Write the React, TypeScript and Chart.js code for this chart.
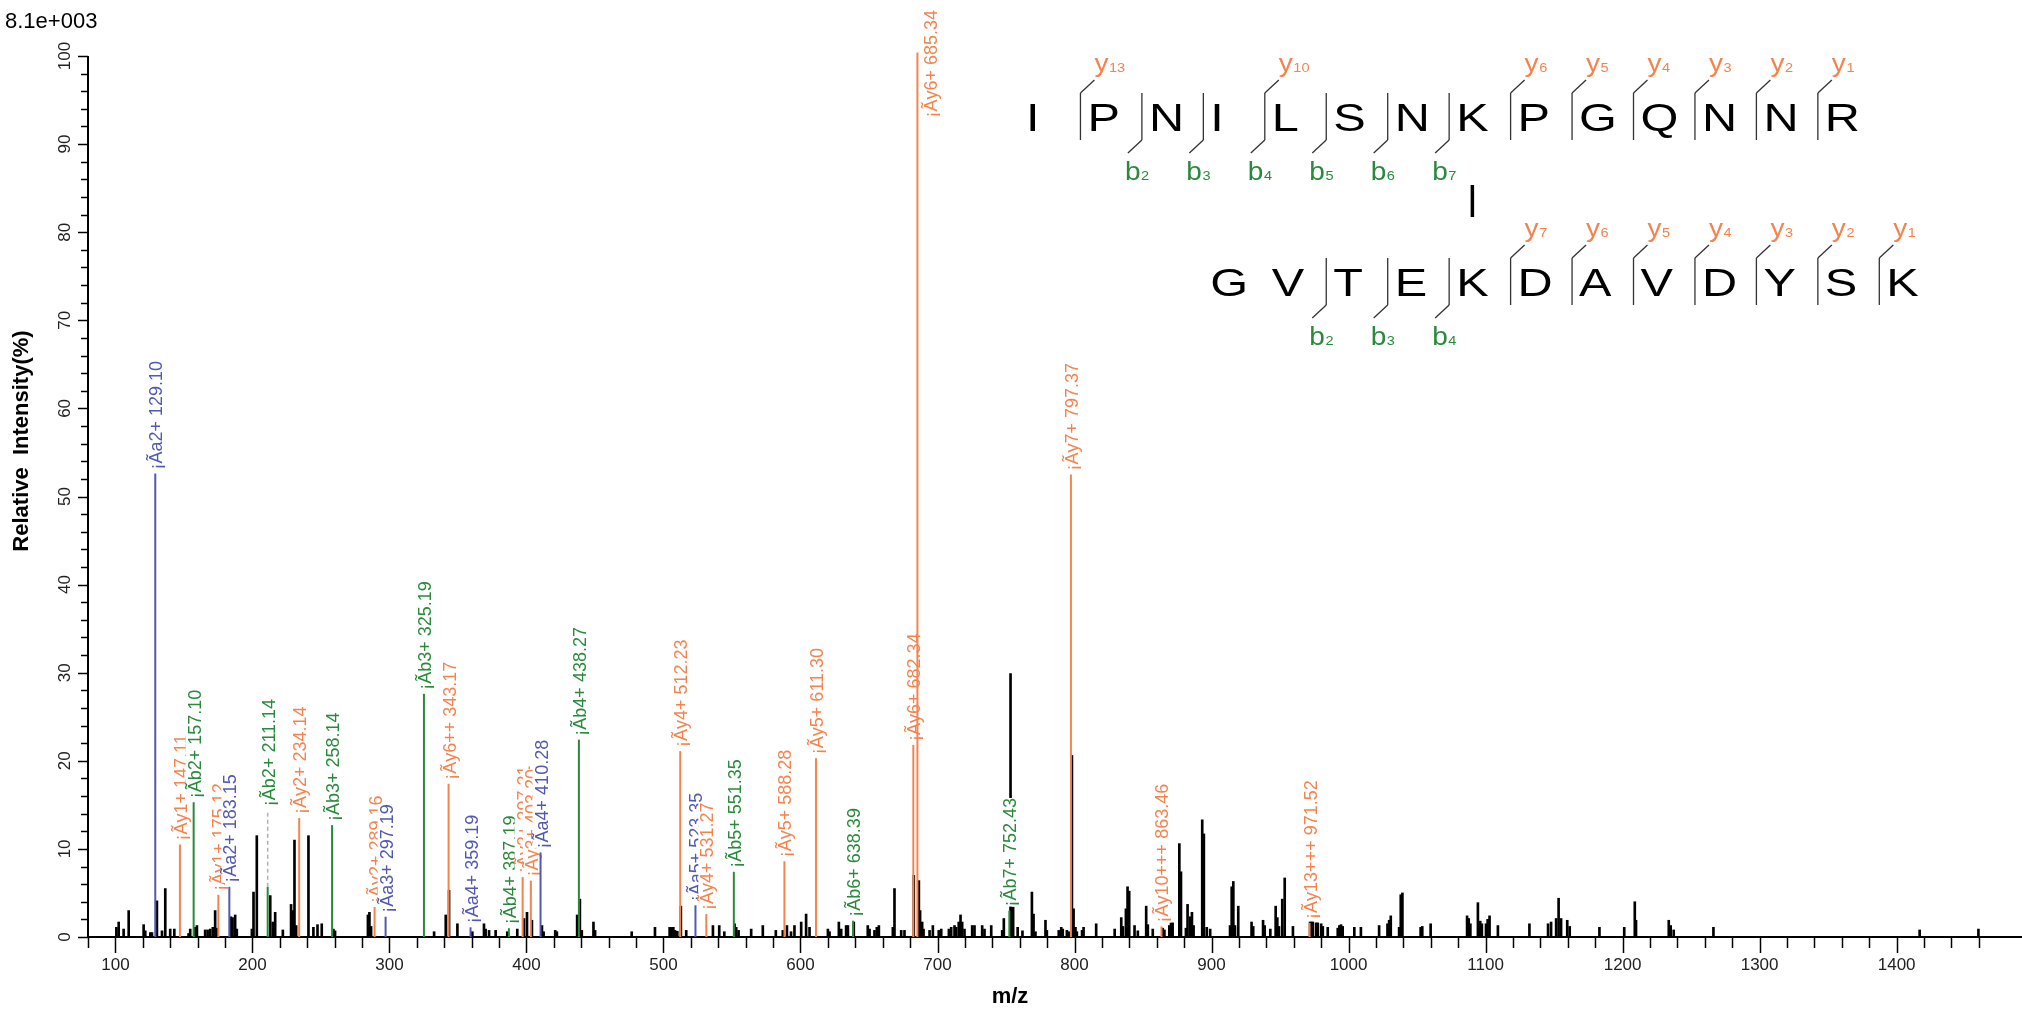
import React, { useEffect, useRef } from "react";
import { Chart, registerables } from "chart.js";

Chart.register(...registerables);

// ---------- data ----------
const blackMz = [
  100.7, 102.4, 106.0, 109.7, 120.6, 121.8, 125.5, 126.7, 130.3, 134.0, 136.4, 140.0, 143.0,
  153.4, 154.6, 158.3, 159.5, 165.5, 167.3, 169.2, 171.1, 172.8, 174.0, 184.3, 185.5, 187.4,
  188.6, 199.6, 200.8, 203.2, 213.0, 214.9, 216.6, 222.2, 228.2, 229.5, 230.7, 231.9, 240.9,
  244.5, 247.5, 250.6, 259.1, 260.3, 284.3, 285.4, 286.6, 332.6, 341.1, 343.5, 349.6, 360.5,
  369.0, 370.2, 372.7, 377.5, 386.0, 393.3, 398.2, 400.4, 404.0, 411.3, 412.5, 421.0, 422.2,
  437.0, 439.0, 440.4, 448.9, 450.1, 476.8, 493.8, 504.5, 506.0, 507.2, 508.4, 510.1, 512.7,
  516.6, 536.1, 540.7, 544.4, 551.9, 553.1, 554.8, 564.0, 572.5, 582.0, 587.1, 590.1, 593.1,
  595.6, 600.5, 604.1, 606.6, 620.0, 621.2, 628.0, 629.7, 633.3, 634.6, 638.9, 649.1, 650.4,
  654.0, 655.7, 657.2, 667.4, 668.6, 673.5, 675.9, 682.7, 686.4, 687.3, 688.8, 689.8, 694.2,
  696.6, 700.9, 702.7, 708.3, 710.0, 712.4, 713.6, 715.5, 716.8, 718.0, 719.7, 725.3, 727.0,
  732.6, 734.3, 739.2, 747.2, 748.4, 753.3, 754.5, 755.2, 758.5, 762.0, 768.9, 770.1, 771.5,
  778.8, 779.8, 788.5, 790.3, 791.4, 794.4, 795.8, 798.1, 799.3, 800.7, 801.7, 805.5, 806.6,
  815.8, 829.3, 834.1, 835.3, 837.5, 838.7, 839.9, 843.8, 846.2, 852.3, 853.5, 857.1, 864.4,
  865.6, 869.2, 870.4, 871.6, 876.5, 877.7, 881.3, 882.5, 884.5, 885.7, 886.9, 893.2, 894.4,
  896.5, 899.0, 913.5, 914.7, 915.9, 917.1, 919.5, 929.2, 930.4, 937.6, 938.8, 942.9, 946.8,
  948.0, 949.2, 951.6, 953.4, 959.4, 971.9, 972.9, 973.9, 976.3, 977.5, 980.0, 981.2, 984.8,
  992.1, 993.3, 994.5, 995.7, 1004.2, 1009.0, 1022.3, 1028.4, 1029.6, 1030.8, 1036.9, 1038.1,
  1039.3, 1052.6, 1053.8, 1059.9, 1086.5, 1087.7, 1088.9, 1094.4, 1096.1, 1097.3, 1100.3,
  1101.5, 1102.9, 1109.0, 1132.0, 1145.6, 1147.8, 1151.5, 1153.3, 1155.1, 1159.6, 1161.4,
  1183.1, 1201.2, 1208.9, 1209.8, 1233.7, 1235.1, 1237.3, 1266.3, 1416.8, 1459.7,
];
const blackInt = [
  1.1, 1.7, 0.9, 3.0, 1.4, 0.7, 0.5, 0.5, 4.1, 0.7, 5.5, 0.9, 0.9,
  0.4, 0.9, 1.1, 1.3, 0.8, 0.8, 0.9, 1.1, 3.0, 1.0, 2.3, 2.2, 2.5,
  0.9, 0.9, 5.1, 11.5, 4.7, 1.7, 2.8, 0.8, 3.7, 3.0, 11.0, 1.3, 11.5,
  1.1, 1.4, 1.5, 0.9, 0.7, 2.5, 2.8, 1.2, 0.6, 2.5, 5.3, 1.5, 0.6,
  1.5, 0.9, 0.75, 0.75, 0.6, 0.9, 2.1, 2.8, 1.9, 1.3, 0.6, 0.75, 0.6,
  2.5, 4.3, 0.75, 1.7, 0.75, 0.6, 1.1, 1.1, 1.1, 1.1, 0.75, 0.65, 3.5,
  0.75, 1.3, 1.3, 0.6, 1.5, 1.1, 0.75, 0.9, 1.3, 0.75, 0.75, 1.3, 0.6,
  1.3, 1.7, 2.6, 1.1, 0.9, 0.6, 1.7, 0.9, 1.3, 1.3, 1.7, 1.3, 0.9,
  0.75, 1.1, 1.3, 1.1, 5.5, 0.75, 0.75, 7.0, 6.4, 3.0, 1.7, 0.9, 0.75,
  1.3, 0.75, 0.9, 0.9, 1.1, 1.3, 1.1, 1.7, 2.5, 1.7, 0.9, 1.3, 1.3,
  1.3, 0.9, 1.3, 0.75, 2.1, 29.9, 3.3, 3.4, 1.1, 0.7, 5.1, 2.6, 0.6,
  1.9, 0.75, 0.75, 1.1, 0.9, 0.75, 0.6, 20.6, 3.2, 1.1, 0.6, 0.75, 1.1,
  1.5, 0.9, 2.2, 1.2, 3.2, 5.7, 5.2, 1.3, 0.7, 3.5, 1.4, 0.9, 1.0,
  0.8, 1.3, 1.6, 1.6, 10.6, 7.4, 1.0, 3.7, 2.3, 2.8, 1.3, 13.3, 11.7,
  1.1, 0.9, 1.3, 5.7, 6.3, 1.3, 3.5, 1.7, 1.2, 1.9, 1.3, 0.9, 3.5,
  2.2, 1.2, 4.3, 6.7, 1.2, 1.7, 1.7, 1.7, 1.6, 1.6, 1.5, 1.2, 1.1,
  1.0, 1.3, 1.4, 1.2, 1.1, 1.1, 1.3, 1.5, 1.9, 2.4, 1.1, 4.8,
  5.0, 1.1, 1.2, 1.5, 2.4, 2.1, 1.5, 3.9, 1.8, 1.5, 1.5,
  2.0, 2.4, 1.3, 1.5, 1.5, 1.7, 2.1, 4.4, 2.1, 1.9, 1.2,
  1.1, 1.1, 4.0, 1.9, 1.9, 1.3, 0.8, 1.1, 0.8, 0.9,
];

const aIonMz = [129.1, 183.15, 297.19, 359.19, 410.28, 523.35];
const aIonInt = [52.6, 5.7, 2.3, 1.1, 9.6, 3.6];
const aIonLabel = ["¡Ãa2+ 129.10", "¡Ãa2+ 183.15", "¡Ãa3+ 297.19", "¡Ãa4+ 359.19", "¡Ãa4+ 410.28", "¡Ãa5+ 523.35"];

const bIonMz = [157.1, 211.14, 258.14, 325.19, 387.19, 438.27, 551.35, 638.39, 752.43];
const bIonInt = [15.3, 5.7, 12.7, 27.6, 1.0, 22.4, 7.4, 1.85, 3.0];
const bIonLabel = [
  "¡Ãb2+ 157.10", "¡Ãb2+ 211.14", "¡Ãb3+ 258.14", "¡Ãb3+ 325.19", "¡Ãb4+ 387.19",
  "¡Ãb4+ 438.27", "¡Ãb5+ 551.35", "¡Ãb6+ 638.39", "¡Ãb7+ 752.43",
];

const yIonMz = [147.11, 175.12, 234.14, 289.16, 343.17, 397.21, 403.2, 512.23, 531.27, 588.28, 611.3, 682.34, 685.34, 797.37, 863.46, 971.52];
const yIonInt = [10.5, 4.8, 13.5, 3.4, 17.4, 6.8, 6.4, 21.1, 2.6, 8.6, 20.3, 21.8, 100.4, 52.5, 1.2, 1.6];
const yIonLabel = [
  "¡Ãy1+ 147.11", "¡Ãy1+ 175.12", "¡Ãy2+ 234.14", "¡Ãy2+ 289.16", "¡Ãy6++ 343.17",
  "¡Ãy3+ 397.21", "¡Ãy3+ 403.20", "¡Ãy4+ 512.23", "¡Ãy4+ 531.27", "¡Ãy5+ 588.28",
  "¡Ãy5+ 611.30", "¡Ãy6+ 682.34", "¡Ãy6+ 685.34", "¡Ãy7+ 797.37", "¡Ãy10+++ 863.46",
  "¡Ãy13+++ 971.52",
];

// label raised above its peak, in intensity units (joined by a dashed leader)
const labelLift: Record<string, number> = { "¡Ãb2+ 211.14": 14.4 };

const xTickLabels = ["100", "200", "300", "400", "500", "600", "700", "800", "900", "1000", "1100", "1200", "1300", "1400"];
const yTickLabels = ["0", "10", "20", "30", "40", "50", "60", "70", "80", "90", "100"];
const intensityScale = "8.1e+003";

const peptide1 = ["I", "P", "N", "I", "L", "S", "N", "K", "P", "G", "Q", "N", "N", "R"];
const peptide2 = ["G", "V", "T", "E", "K", "D", "A", "V", "D", "Y", "S", "K"];
const pep1YIons: [number, string][] = [[1, "13"], [4, "10"], [8, "6"], [9, "5"], [10, "4"], [11, "3"], [12, "2"], [13, "1"]];
const pep1BIons: [number, string][] = [[2, "2"], [3, "3"], [4, "4"], [5, "5"], [6, "6"], [7, "7"]];
const pep2YIons: [number, string][] = [[5, "7"], [6, "6"], [7, "5"], [8, "4"], [9, "3"], [10, "2"], [11, "1"]];
const pep2BIons: [number, string][] = [[2, "2"], [3, "3"], [4, "4"]];
const linkSite1 = 7;

// ---------- styles ----------
const FONT = '"Liberation Sans", Arial, sans-serif';
const COL_A = "#5259b0";
const COL_B = "#2a8a3c";
const COL_Y = "#f4844f";

const spectrumPlugin = {
  id: "spectrum",
  afterDatasetsDraw(chart: any) {
    const { ctx } = chart;
    const xs = chart.scales.x;
    const ys = chart.scales.y;
    const base = ys.getPixelForValue(0);
    const left = chart.chartArea.left;
    const right = chart.chartArea.right;

    ctx.save();
    // ----- axes -----
    ctx.strokeStyle = "#000";
    ctx.lineWidth = 2;
    ctx.beginPath();
    ctx.moveTo(left, ys.getPixelForValue(100));
    ctx.lineTo(left, base);
    ctx.lineTo(right, base);
    ctx.stroke();
    ctx.lineWidth = 1.5;
    for (let v = 0; v <= 100; v += 2) {
      const py = Math.round(ys.getPixelForValue(v)) + 0.5;
      const len = v % 10 === 0 ? 10 : 7;
      ctx.beginPath();
      ctx.moveTo(left - len, py);
      ctx.lineTo(left, py);
      ctx.stroke();
    }
    for (let v = 80; v <= 1460; v += 20) {
      const px = Math.round(xs.getPixelForValue(v)) + 0.5;
      const len = v % 100 === 0 ? 16 : 11;
      ctx.beginPath();
      ctx.moveTo(px, base);
      ctx.lineTo(px, base + len);
      ctx.stroke();
    }
    ctx.fillStyle = "#222";
    ctx.font = `17px ${FONT}`;
    ctx.textAlign = "center";
    ctx.textBaseline = "middle";
    xTickLabels.forEach((t) => {
      ctx.fillText(t, xs.getPixelForValue(Number(t)), base + 28);
    });
    yTickLabels.forEach((t) => {
      ctx.save();
      ctx.translate(left - 23, ys.getPixelForValue(Number(t)));
      ctx.rotate(-Math.PI / 2);
      ctx.fillText(t, 0, 0);
      ctx.restore();
    });
    // titles
    ctx.fillStyle = "#000";
    ctx.font = `bold 22px ${FONT}`;
    ctx.fillText("m/z", 1010, 997);
    ctx.save();
    ctx.translate(22, 441);
    ctx.rotate(-Math.PI / 2);
    ctx.fillText("Relative  Intensity(%)", 0, 0);
    ctx.restore();
    ctx.font = `22px ${FONT}`;
    ctx.textAlign = "left";
    ctx.textBaseline = "alphabetic";
    ctx.fillText(intensityScale, 5, 28);

    // ----- annotated peaks -----
    const ions: { mz: number; v: number; label: string; color: string }[] = [];
    aIonMz.forEach((m, i) => ions.push({ mz: m, v: aIonInt[i], label: aIonLabel[i], color: COL_A }));
    bIonMz.forEach((m, i) => ions.push({ mz: m, v: bIonInt[i], label: bIonLabel[i], color: COL_B }));
    yIonMz.forEach((m, i) => ions.push({ mz: m, v: yIonInt[i], label: yIonLabel[i], color: COL_Y }));
    ions.sort((p, q) => p.mz - q.mz);

    ctx.font = `18px ${FONT}`;
    ions.forEach((ion) => {
      const px = xs.getPixelForValue(ion.mz);
      const top = ys.getPixelForValue(ion.v);
      ctx.strokeStyle = ion.color;
      ctx.lineWidth = 2;
      ctx.beginPath();
      ctx.moveTo(px, base);
      ctx.lineTo(px, top);
      ctx.stroke();
      let lb = top - 4;
      let lx = px;
      const lift = labelLift[ion.label];
      if (lift !== undefined) {
        const ly = ys.getPixelForValue(lift);
        ctx.save();
        ctx.strokeStyle = "#b0b0b0";
        ctx.lineWidth = 1.5;
        ctx.setLineDash([4, 3]);
        ctx.beginPath();
        ctx.moveTo(px, top);
        ctx.lineTo(px, ly);
        ctx.stroke();
        ctx.restore();
        lb = ly - 4;
      }
      const w = ctx.measureText(ion.label).width;
      if (lb - w < 2) {
        lb = 10 + w;
        lx = px + 13;
      }
      ctx.save();
      ctx.translate(lx + 1, lb);
      ctx.rotate(-Math.PI / 2);
      ctx.fillStyle = "#fff";
      ctx.fillRect(0, -9, w, 18);
      ctx.fillStyle = ion.color;
      ctx.textBaseline = "middle";
      ctx.fillText(ion.label, 0, 1);
      ctx.restore();
    });

    // ----- peptide fragmentation map -----
    const CELL = 61.45;
    const X0 = 1019;
    const SX = 1.28; // horizontal stretch of the sequence lettering
    const rows = [
      { letters: peptide1, off: 0, bl: 131, yi: pep1YIons, bi: pep1BIons },
      { letters: peptide2, off: 3, bl: 296, yi: pep2YIons, bi: pep2BIons },
    ];
    const drawSub = (ch: string, num: string, x: number, y: number, color: string) => {
      ctx.save();
      ctx.translate(x, y);
      ctx.scale(1.12, 1);
      ctx.fillStyle = color;
      ctx.font = `25px ${FONT}`;
      ctx.fillText(ch, 0, 0);
      const w = ctx.measureText(ch).width;
      ctx.font = `13px ${FONT}`;
      ctx.fillText(num, w + 0.5, 0);
      ctx.restore();
    };
    rows.forEach((r) => {
      ctx.fillStyle = "#000";
      ctx.font = `38px ${FONT}`;
      ctx.textAlign = "left";
      ctx.textBaseline = "alphabetic";
      r.letters.forEach((L, i) => {
        ctx.save();
        ctx.translate(X0 + (i + r.off) * CELL + 7, r.bl);
        ctx.scale(SX, 1);
        ctx.fillText(L, 0, 0);
        ctx.restore();
      });
      const seps = new Set<number>();
      r.yi.forEach(([s]) => seps.add(s));
      r.bi.forEach(([s]) => seps.add(s));
      ctx.strokeStyle = "#333";
      ctx.lineWidth = 1.3;
      seps.forEach((s) => {
        const sx = X0 + (s + r.off) * CELL;
        ctx.beginPath();
        ctx.moveTo(sx, r.bl - 38);
        ctx.lineTo(sx, r.bl + 9);
        ctx.stroke();
      });
      r.yi.forEach(([s, n]) => {
        const sx = X0 + (s + r.off) * CELL;
        ctx.strokeStyle = "#333";
        ctx.beginPath();
        ctx.moveTo(sx, r.bl - 38);
        ctx.lineTo(sx + 14, r.bl - 51);
        ctx.stroke();
        drawSub("y", n, sx + 14, r.bl - 59, COL_Y);
      });
      r.bi.forEach(([s, n]) => {
        const sx = X0 + (s + r.off) * CELL;
        ctx.strokeStyle = "#333";
        ctx.beginPath();
        ctx.moveTo(sx, r.bl + 9);
        ctx.lineTo(sx - 14, r.bl + 22);
        ctx.stroke();
        drawSub("b", n, sx - 17, r.bl + 49, COL_B);
      });
    });
    // cross-link
    ctx.font = `38px ${FONT}`;
    const kw = ctx.measureText("K").width * SX;
    const cx = X0 + linkSite1 * CELL + 7 + kw / 2;
    ctx.strokeStyle = "#000";
    ctx.lineWidth = 3.5;
    ctx.beginPath();
    ctx.moveTo(cx, 185);
    ctx.lineTo(cx, 217);
    ctx.stroke();
    ctx.restore();
  },
};

export default function App() {
  const ref = useRef<HTMLCanvasElement | null>(null);
  useEffect(() => {
    if (!ref.current) return;
    const chart = new Chart(ref.current, {
      type: "bar",
      data: {
        datasets: [
          {
            data: blackMz.map((m, i) => ({ x: m, y: blackInt[i] })),
            backgroundColor: "#000",
            barThickness: 2,
            grouped: false,
          } as any,
        ],
      },
      options: {
        responsive: false,
        animation: false,
        devicePixelRatio: 1,
        events: [],
        layout: { padding: { left: 88, top: 56, right: 0, bottom: 73 } },
        plugins: { legend: { display: false }, tooltip: { enabled: false } },
        scales: {
          x: { type: "linear", min: 80, max: 1491.5, display: false, offset: false, grid: { offset: false } },
          y: { type: "linear", min: 0, max: 100, display: false },
        },
      },
      plugins: [spectrumPlugin],
    });
    return () => chart.destroy();
  }, []);
  return (
    <div style={{ position: "absolute", left: 0, top: 0, width: 2022, height: 1010, background: "#fff" }}>
      <canvas ref={ref} width={2022} height={1010} style={{ display: "block" }} />
    </div>
  );
}
